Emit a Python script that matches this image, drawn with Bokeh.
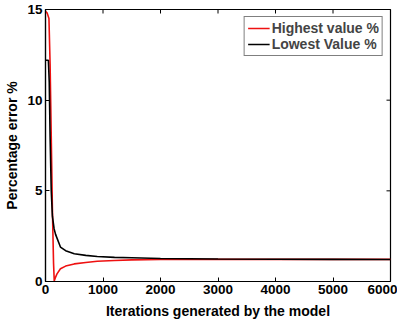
import math
from bokeh.plotting import figure
from bokeh.models import Range1d, FixedTicker, Legend, LegendItem
from bokeh.embed import file_html
from bokeh.resources import INLINE

# Data
iters_high = [0, 30, 60, 80, 100, 120, 140, 152, 170, 200, 260, 350, 500, 700, 900, 1200, 1500, 2000, 3000, 4000, 5000, 6000]
highest_pct = [14.9, 14.8, 14.5, 12.0, 8.0, 4.0, 1.0, 0.03, 0.2, 0.42, 0.7, 0.85, 0.97, 1.05, 1.12, 1.16, 1.19, 1.21, 1.22, 1.22, 1.22, 1.22]

iters_low = [0, 50, 65, 80, 100, 120, 150, 175, 260, 350, 500, 700, 900, 1200, 1500, 2000, 3000, 4000, 5000, 6000]
lowest_pct = [12.2, 12.2, 11.0, 8.0, 5.0, 3.6, 2.9, 2.6, 1.9, 1.7, 1.53, 1.44, 1.38, 1.33, 1.31, 1.27, 1.24, 1.23, 1.22, 1.21]

x_ticks = [0, 1000, 2000, 3000, 4000, 5000, 6000]
y_ticks = [0, 5, 10, 15]
x_min, x_max = 0, 6000
y_min, y_max = 0, 15

FONT = "Liberation Sans"

p = figure(output_backend="svg", toolbar_location=None,
           x_range=Range1d(x_min, x_max), y_range=Range1d(y_min, y_max),
           frame_width=345, frame_height=272,
           min_border_left=45, min_border_right=7, min_border_top=9, min_border_bottom=40)
p.grid.visible = False
p.outline_line_color = "black"
p.outline_line_width = 1.2
p.background_fill_color = "white"
p.border_fill_color = "white"

r1 = p.line(iters_high, highest_pct, line_color="#ee1111", line_width=1.6)
r2 = p.line(iters_low, lowest_pct, line_color="black", line_width=1.6)

# MATLAB-style inward ticks on the top and right edges (clipped to the frame)
p.scatter(x=x_ticks, y=[y_max] * len(x_ticks), marker="dash", angle=math.pi / 2,
          size=8, line_color="black", line_width=1)
p.scatter(x=[x_max] * len(y_ticks), y=y_ticks, marker="dash",
          size=8, line_color="black", line_width=1)

for ax in (p.xaxis[0], p.yaxis[0]):
    ax.major_tick_in = 4
    ax.major_tick_out = 0
    ax.minor_tick_line_color = None
    ax.axis_line_width = 1.2
    ax.major_label_text_font = FONT
    ax.major_label_text_font_style = "bold"
    ax.major_label_text_font_size = "13.5px"
    ax.major_label_text_color = "black"
    ax.axis_label_text_font = FONT
    ax.axis_label_text_font_style = "bold"
    ax.axis_label_text_color = "black"
    ax.axis_label_text_font_size = "14px"

p.xaxis[0].ticker = FixedTicker(ticks=x_ticks)
p.yaxis[0].ticker = FixedTicker(ticks=y_ticks)
p.xaxis[0].axis_label = "Iterations generated by the model"
p.yaxis[0].axis_label = "Percentage error %"
p.xaxis[0].major_label_standoff = 3
p.yaxis[0].major_label_standoff = 3
p.xaxis[0].axis_label_standoff = 6
p.yaxis[0].axis_label_standoff = 4

legend = Legend(items=[LegendItem(label="Highest value %", renderers=[r1]),
                       LegendItem(label="Lowest Value %", renderers=[r2])],
                location="top_right")
legend.label_text_font = FONT
legend.label_text_font_style = "bold"
legend.label_text_font_size = "14px"
legend.border_line_color = "black"
legend.border_line_width = 1
legend.glyph_width = 22
legend.glyph_height = 14
legend.label_height = 14
legend.spacing = 0
legend.padding = 3
legend.margin = 7
legend.label_standoff = 2
legend.background_fill_alpha = 1
p.add_layout(legend)

open("out.html", "w").write(file_html(p, INLINE))
